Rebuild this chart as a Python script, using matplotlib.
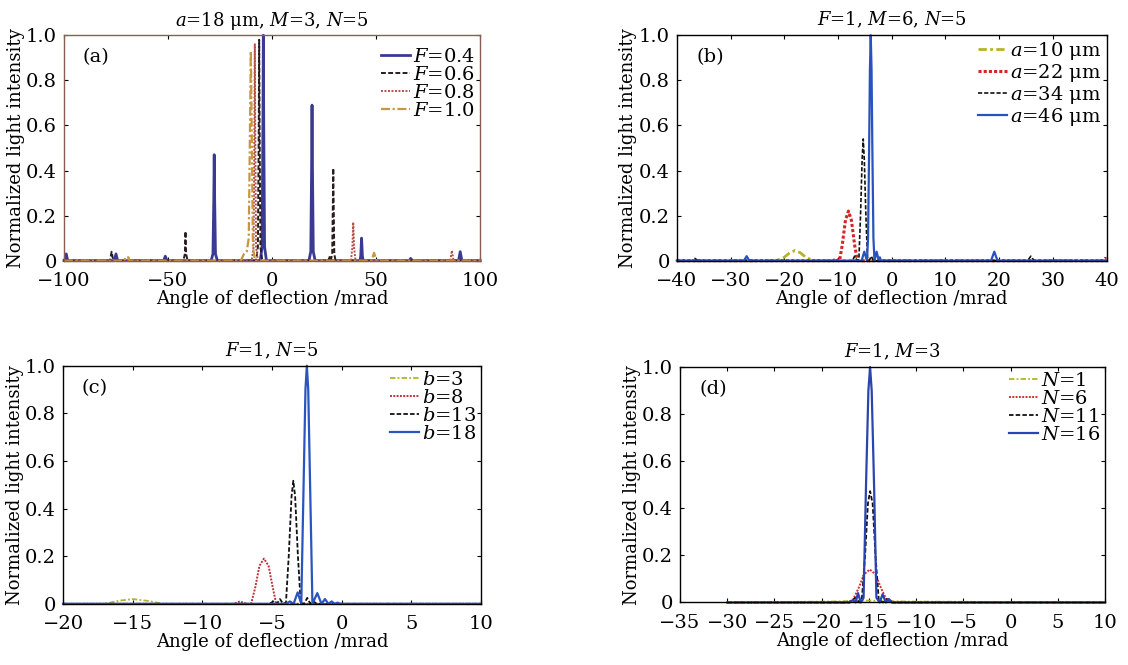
import matplotlib
matplotlib.use("Agg")
import matplotlib.pyplot as plt

plt.rcParams['font.family'] = ['DejaVu Serif']
plt.rcParams['mathtext.fontset'] = 'dejavuserif'

# ---------------- Panel (a): a=18 um, M=3, N=5 ----------------
a_F04_x = [-100, -99.6, -98.9, -98.2,
           -75.8, -75.0, -74.2,
           -52.1, -51.3, -50.5,
           -29.3, -28.4, -28.0, -27.8, -27.6, -27.2, -26.3,
           -5.7, -4.8, -4.4, -4.2, -4.0, -3.6, -2.7,
           17.7, 18.6, 19.0, 19.2, 19.4, 19.8, 20.7,
           42.2, 42.6, 43.0, 43.4, 43.8,
           65.8, 66.6, 67.4,
           89.6, 90.4, 91.2, 100]
a_F04_y = [0, 0, 0.03, 0,
           0, 0.03, 0,
           0, 0.02, 0,
           0, 0.03, 0.28, 0.47, 0.28, 0.03, 0,
           0, 0.06, 0.6, 1.0, 0.6, 0.06, 0,
           0, 0.04, 0.42, 0.69, 0.42, 0.04, 0,
           0, 0.02, 0.10, 0.02, 0,
           0, 0.01, 0,
           0, 0.04, 0, 0]
a_F06_x = [-100, -77.9, -77.1, -76.3,
           -42.6, -41.9, -41.6, -41.3, -40.6,
           -7.7, -6.8, -6.4, -6.2, -6.0, -5.6, -4.7,
           27.0, 27.8, 28.3, 28.9, 29.2, 29.4, 29.6, 29.9, 30.5,
           99.2, 100]
a_F06_y = [0, 0, 0.04, 0,
           0, 0.03, 0.13, 0.03, 0,
           0, 0.06, 0.59, 0.98, 0.59, 0.06, 0,
           0, 0.02, 0.005, 0.03, 0.25, 0.41, 0.25, 0.03, 0,
           0, 0.01]
a_F08_x = [-100, -9.8, -8.9, -8.5, -8.3, -8.1, -7.7, -6.8,
           37.9, 38.6, 39.0, 39.4, 40.1,
           85.6, 86.4, 87.2, 100]
a_F08_y = [0, 0, 0.06, 0.58, 0.96, 0.58, 0.06, 0,
           0, 0.06, 0.17, 0.06, 0,
           0, 0.045, 0, 0]
a_F10_x = [-100, -71, -70.5, -69, -68.5,
           -15, -13.5, -12.2, -11.2, -10.6, -10.2, -9.8, -9.2, -8.2,
           47.8, 49.0, 50.2, 100]
a_F10_y = [0, 0, 0.015, 0.015, 0,
           0, 0.03, 0.04, 0.1, 0.6, 0.93, 0.6, 0.06, 0,
           0, 0.035, 0, 0]
a_labels = ['$F$=0.4', '$F$=0.6', '$F$=0.8', '$F$=1.0']
a_xticks = [-100, -50, 0, 50, 100]

# ---------------- Panel (b): F=1, M=6, N=5 ----------------
b_a10_x = [-40, -21.5, -20, -19, -18, -17, -16, -14.5, 40]
b_a10_y = [0, 0, 0.015, 0.035, 0.045, 0.035, 0.015, 0, 0]
b_a22_x = [-40, -10.8, -10.4, -10.0, -9.7, -9.2, -8.6, -8.05, -7.5, -6.9, -6.4, 39.3, 39.7, 40]
b_a22_y = [0, 0, 0.01, 0, 0, 0.07, 0.18, 0.22, 0.18, 0.07, 0, 0, 0.01, 0.01]
b_a34_x = [-40, -37.1, -36.6, -36.1, -7.3, -6.9, -6.4, -6.1, -5.8, -5.5, -5.3, -5.1, -4.8,
           -4.5, -4.2, -3.8, -3.4, 25.3, 25.9, 26.5, 40]
b_a34_y = [0, 0, 0.01, 0, 0, 0.02, 0, 0.01, 0.2, 0.45, 0.54, 0.45, 0.2,
           0.01, 0, 0.02, 0, 0, 0.02, 0, 0]
b_a46_x = [-40, -27.5, -27.0, -26.5, -5.6, -5.1, -4.6, -4.4, -4.2, -4.05, -3.9, -3.75, -3.6,
           -3.4, -3.2, -2.8, -2.4, -2.2, -2.0, 18.5, 19.1, 19.7, 40]
b_a46_y = [0, 0, 0.02, 0, 0, 0.04, 0, 0.1, 0.5, 0.85, 1.0, 0.85, 0.5,
           0.1, 0, 0.04, 0, 0.015, 0, 0, 0.04, 0, 0]
b_labels = ['$a$=10 μm', '$a$=22 μm', '$a$=34 μm', '$a$=46 μm']
b_xticks = [-40, -30, -20, -10, 0, 10, 20, 30, 40]

# ---------------- Panel (c): F=1, N=5 ----------------
c_b3_x = [-20, -17, -16, -15, -14, -12.8, 10]
c_b3_y = [0, 0, 0.013, 0.02, 0.013, 0, 0]
c_b8_x = [-20, -7.8, -7.3, -6.8, -6.5, -6.2, -5.9, -5.58, -5.25, -4.95, -4.7, 10]
c_b8_y = [0, 0, 0.01, 0, 0, 0.07, 0.16, 0.19, 0.16, 0.07, 0, 0]
c_b13_x = [-20, -5.2, -4.9, -4.65, -4.43, -4.2, -4.0, -3.8, -3.6, -3.47, -3.34, -3.14, -2.94,
           -2.7, -2.47, -2.25, -2.0, -1.8, 10]
c_b13_y = [0, 0, 0.01, 0, 0.02, 0, 0.005, 0.2, 0.45, 0.517, 0.45, 0.2, 0.005,
           0, 0.025, 0, 0.01, 0, 0]
c_b18_x = [-20, -4.0, -3.71, -3.45, -3.16, -2.9, -2.75, -2.6, -2.5, -2.4, -2.25, -2.1,
           -1.75, -1.45, -1.2, -0.95, -0.72, -0.5, -0.3, -0.1, 10]
c_b18_y = [0, 0, 0.01, 0, 0.048, 0, 0.45, 0.9, 1.0, 0.9, 0.45, 0,
           0.045, 0, 0.02, 0, 0.01, 0, 0.005, 0, 0]
c_labels = ['$b$=3', '$b$=8', '$b$=13', '$b$=18']
c_xticks = [-20, -15, -10, -5, 0, 5, 10]

# ---------------- Panel (d): F=1, M=3 ----------------
d_N1_x = [-30, -19, -15, -11, 10]
d_N1_y = [0, 0.004, 0.008, 0.004, 0]
d_N6_x = [-30, -17.5, -16.7, -16.1, -15.5, -14.9, -14.3, -13.7, -13.1, -12.4, 10]
d_N6_y = [0, 0, 0.01, 0.06, 0.12, 0.14, 0.12, 0.06, 0.01, 0, 0]
d_N11_x = [-30, -17, -16.45, -16.0, -15.75, -15.4, -15.1, -14.87, -14.6, -14.3, -13.95,
           -13.5, -13.05, -12.6, 10]
d_N11_y = [0, 0, 0.02, 0, 0.01, 0.2, 0.42, 0.473, 0.42, 0.2, 0.01,
           0, 0.015, 0, 0]
d_N16_x = [-30, -17.1, -16.7, -16.4, -16.15, -15.85, -15.56, -15.3, -15.05, -14.87, -14.7,
           -14.45, -14.2, -13.85, -13.55, -13.2, -12.9, -12.5, 10]
d_N16_y = [0, 0, 0.01, 0, 0.04, 0, 0.02, 0.5, 0.9, 1.0, 0.9,
           0.5, 0.02, 0, 0.035, 0, 0.015, 0, 0]
d_labels = ['$N$=1', '$N$=6', '$N$=11', '$N$=16']
d_xticks = [-35, -30, -25, -20, -15, -10, -5, 0, 5, 10]

y_ticks = [0, 0.2, 0.4, 0.6, 0.8, 1.0]
y_ticklabels = ['0', '0.2', '0.4', '0.6', '0.8', '1.0']

TICK_FS = 14
LAB_FS = 13
TITLE_FS = 13
LEG_FS = 14

fig = plt.figure(figsize=(11.28, 6.65), dpi=100)

axA = fig.add_axes([0.0567, 0.608, 0.369, 0.339])
axB = fig.add_axes([0.600, 0.608, 0.381, 0.339])
axC = fig.add_axes([0.0559, 0.0920, 0.3705, 0.358])
axD = fig.add_axes([0.6028, 0.0940, 0.3768, 0.354])


def style(ax, xticks, title, tag, spine_color='black'):
    ax.set_xlim(xticks[0], xticks[-1])
    ax.set_ylim(0, 1.0)
    ax.set_xticks(xticks)
    ax.set_yticks(y_ticks)
    ax.set_yticklabels(y_ticklabels)
    ax.tick_params(direction='in', length=3, width=0.8, top=True, right=True,
                   labelsize=TICK_FS)
    ax.tick_params(axis='x', pad=8)
    ax.tick_params(axis='y', pad=5)
    for s in ax.spines.values():
        s.set_color(spine_color)
        s.set_linewidth(1.0)
    ax.set_xlabel('Angle of deflection /mrad', fontsize=LAB_FS, labelpad=0)
    ax.set_ylabel('Normalized light intensity', fontsize=LAB_FS, labelpad=1)
    ax.set_title(title, fontsize=TITLE_FS, pad=7)
    ax.text(0.045, 0.905, tag, transform=ax.transAxes, fontsize=14,
            ha='left', va='center')


def legend(ax, anchor=(1.0, 1.0)):
    ax.legend(loc='upper right', bbox_to_anchor=anchor, frameon=False, fontsize=LEG_FS,
              handlelength=1.5, handletextpad=0.15, labelspacing=0.0,
              borderaxespad=0.15, borderpad=0.1)


# Panel (a)
axA.plot(a_F04_x, a_F04_y, color='#3a3a92', lw=2.0, ls='-', label=a_labels[0], clip_on=False)
axA.plot(a_F06_x, a_F06_y, color='#2a1c1c', lw=1.4, ls=(0, (2.5, 1.2)), label=a_labels[1], clip_on=False)
axA.plot(a_F08_x, a_F08_y, color='#b5504a', lw=1.4, ls=(0, (1, 0.8)), label=a_labels[2], clip_on=False)
axA.plot(a_F10_x, a_F10_y, color='#c8963e', lw=1.6, ls=(0, (4, 1.2, 1, 1.2)), label=a_labels[3], clip_on=False)
style(axA, a_xticks, '$a$=18 μm, $M$=3, $N$=5', '(a)', spine_color='#8a5e50')
legend(axA, anchor=(1.0, 0.965))

# Panel (b)
axB.plot(b_a10_x, b_a10_y, color='#b4b42c', lw=2.0, ls=(0, (3, 1.2, 1, 1.2)), label=b_labels[0], clip_on=False)
axB.plot(b_a22_x, b_a22_y, color='#d42424', lw=2.2, ls=(0, (1, 0.7)), label=b_labels[1], clip_on=False)
axB.plot(b_a34_x, b_a34_y, color='#111111', lw=1.2, ls=(0, (2.5, 1.2)), label=b_labels[2], clip_on=False)
axB.plot(b_a46_x, b_a46_y, color='#2a52be', lw=1.6, ls='-', label=b_labels[3], clip_on=False)
style(axB, b_xticks, '$F$=1, $M$=6, $N$=5', '(b)')
legend(axB)

# Panel (c)
axC.plot(c_b3_x, c_b3_y, color='#b4b42c', lw=1.3, ls=(0, (3, 1.2, 1, 1.2)), label=c_labels[0], clip_on=False)
axC.plot(c_b8_x, c_b8_y, color='#c0303a', lw=1.4, ls=(0, (1, 0.7)), label=c_labels[1], clip_on=False)
axC.plot(c_b13_x, c_b13_y, color='#111111', lw=1.3, ls=(0, (2.5, 1.2)), label=c_labels[2], clip_on=False)
axC.plot(c_b18_x, c_b18_y, color='#2a55c0', lw=1.6, ls='-', label=c_labels[3], clip_on=False)
style(axC, c_xticks, '$F$=1, $N$=5', '(c)')
legend(axC)

# Panel (d)
axD.plot(d_N1_x, d_N1_y, color='#b4b42c', lw=1.3, ls=(0, (3, 1.2, 1, 1.2)), label=d_labels[0], clip_on=False)
axD.plot(d_N6_x, d_N6_y, color='#d03030', lw=1.4, ls=(0, (1, 0.7)), label=d_labels[1], clip_on=False)
axD.plot(d_N11_x, d_N11_y, color='#111111', lw=1.3, ls=(0, (2.5, 1.2)), label=d_labels[2], clip_on=False)
axD.plot(d_N16_x, d_N16_y, color='#2a45b0', lw=1.6, ls='-', label=d_labels[3], clip_on=False)
style(axD, d_xticks, '$F$=1, $M$=3', '(d)')
legend(axD)

fig.savefig('out.png', dpi=100)
